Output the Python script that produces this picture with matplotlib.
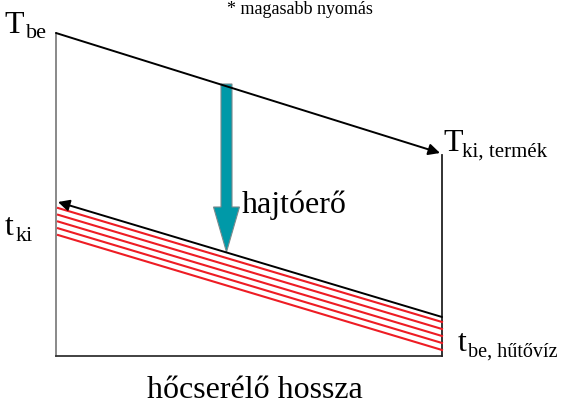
import matplotlib
matplotlib.use("Agg")
import matplotlib.pyplot as plt
from matplotlib.patches import FancyArrowPatch, Polygon

# ---- data (pixel-space diagram geometry) ----
box_left = 56
box_right = 442
box_bottom = 357
hot_start = (56, 34)
hot_end = (440, 154)
cold_start = (442, 318)
cold_end = (58, 203)
red_left_y = [209, 215.75, 222.5, 229.25, 236]
red_right_y = [323, 330, 337, 344, 351]
drive_x = 226.5
drive_top = 85
drive_head_y = 208
drive_tip = 253
shaft_half = 5.5
head_half = 13

fig = plt.figure(figsize=(5.62, 4.06), dpi=100)
ax = fig.add_axes([0, 0, 1, 1])
ax.set_xlim(0, 562)
ax.set_ylim(406, 0)
ax.axis("off")

serif = ["Liberation Serif", "DejaVu Serif"]

# frame lines
ax.plot([box_left, box_left], [hot_start[1], box_bottom], color="#808080", lw=1.3)
ax.plot([box_left, box_right], [box_bottom, box_bottom], color="#333333", lw=1.3)
ax.plot([box_right, box_right], [hot_end[1] + 2, box_bottom], color="#222222", lw=1.3)

# red cooling lines
for yl, yr in zip(red_left_y, red_right_y):
    ax.plot([box_left + 2, box_right], [yl, yr], color="#ee1c24", lw=1.5)

# hot product line with arrow
ax.add_patch(FancyArrowPatch(hot_start, hot_end, arrowstyle="-|>", mutation_scale=17,
                             color="black", lw=1.4, shrinkA=0, shrinkB=0, zorder=3))
# cooling water line with arrow
ax.add_patch(FancyArrowPatch(cold_start, cold_end, arrowstyle="-|>", mutation_scale=17,
                             color="black", lw=1.4, shrinkA=0, shrinkB=0, zorder=3))

# driving force block arrow
verts = [
    (drive_x - shaft_half, drive_top),
    (drive_x + shaft_half, drive_top),
    (drive_x + shaft_half, drive_head_y),
    (drive_x + head_half, drive_head_y),
    (drive_x, drive_tip),
    (drive_x - head_half, drive_head_y),
    (drive_x - shaft_half, drive_head_y),
]
ax.add_patch(Polygon(verts, closed=True, facecolor="#0099a8", edgecolor="#7a8a8c", lw=0.8, zorder=1))

# texts
ax.text(300, 14, "* magasabb nyomás", fontsize=13, family=serif, ha="center", va="baseline")
ax.text(4, 33, "T", fontsize=23, family=serif, ha="left", va="baseline")
ax.text(26, 38, "be", fontsize=16, family=serif, ha="left", va="baseline")
ax.text(443, 151, "T", fontsize=23, family=serif, ha="left", va="baseline")
ax.text(462, 157, "ki, termék", fontsize=15, family=serif, ha="left", va="baseline")
ax.text(242, 213, "hajtóerő", fontsize=23, family=serif, ha="left", va="baseline")
ax.text(5, 235, "t", fontsize=23, family=serif, ha="left", va="baseline")
ax.text(16, 241, "ki", fontsize=16, family=serif, ha="left", va="baseline")
ax.text(458, 351, "t", fontsize=23, family=serif, ha="left", va="baseline")
ax.text(468, 357, "be, hűtővíz", fontsize=14.5, family=serif, ha="left", va="baseline")
ax.text(255, 398, "hőcserélő hossza", fontsize=23, family=serif, ha="center", va="baseline")

fig.savefig("out.png", dpi=100)
